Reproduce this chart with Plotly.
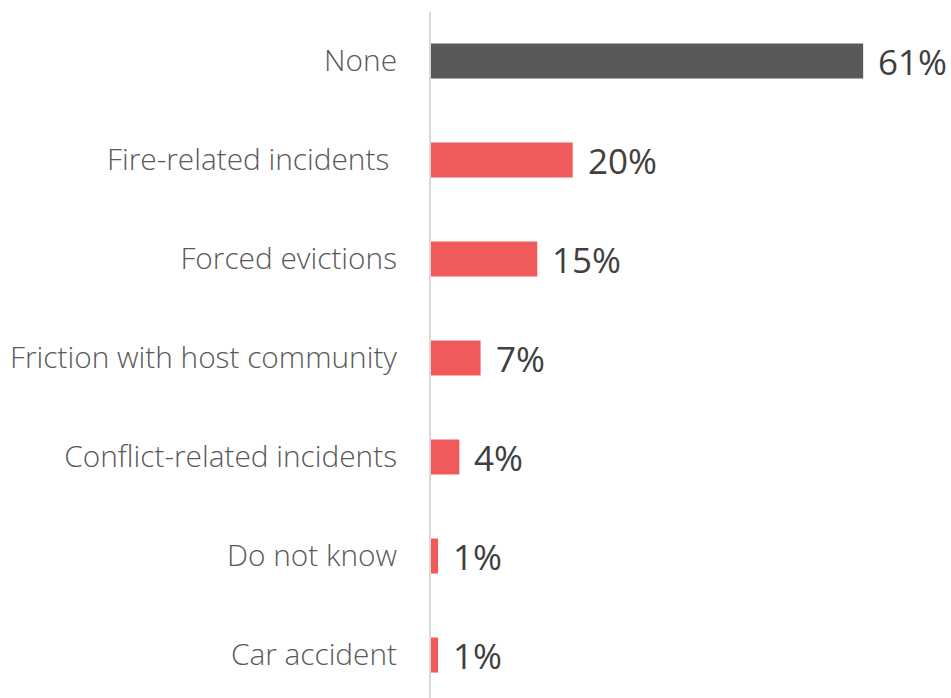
import plotly.graph_objects as go

categories = ["None", "Fire-related incidents\u00a0", "Forced evictions", "Friction with host community",
              "Conflict-related incidents", "Do not know", "Car accident"]
values = [61, 20, 15, 7, 4, 1, 1]
labels = ["61%", "20%", "15%", "7%", "4%", "1%", "1%"]
colors = ["#595959"] + ["#F05A5A"] * 6

fig = go.Figure(go.Bar(
    y=categories, x=values, orientation="h",
    marker=dict(color=colors, line=dict(width=0)),
    hoverinfo="skip",
))

for c, v, t in zip(categories, values, labels):
    fig.add_annotation(x=v, y=c, text=t, xanchor="left", yanchor="middle",
                       xshift=13, showarrow=False,
                       font=dict(family="Open Sans", size=35, color="#404040"))

fig.update_layout(
    width=951, height=698,
    margin=dict(l=431, r=0, t=12, b=0),
    paper_bgcolor="white", plot_bgcolor="white",
    bargap=0.646,
    showlegend=False,
    xaxis=dict(range=[0, 73.4], showgrid=False, zeroline=False, showticklabels=False, showline=False),
    yaxis=dict(type="category", categoryorder="array", categoryarray=categories,
               range=[6.434, -0.495], showgrid=False, zeroline=False,
               showline=True, linecolor="#d9d9d9", linewidth=2, ticks="",
               ticklabelstandoff=26,
               tickfont=dict(family="Open Sans", size=29.8, color="#595959", weight=300)),
)

fig.write_html("out.html")
